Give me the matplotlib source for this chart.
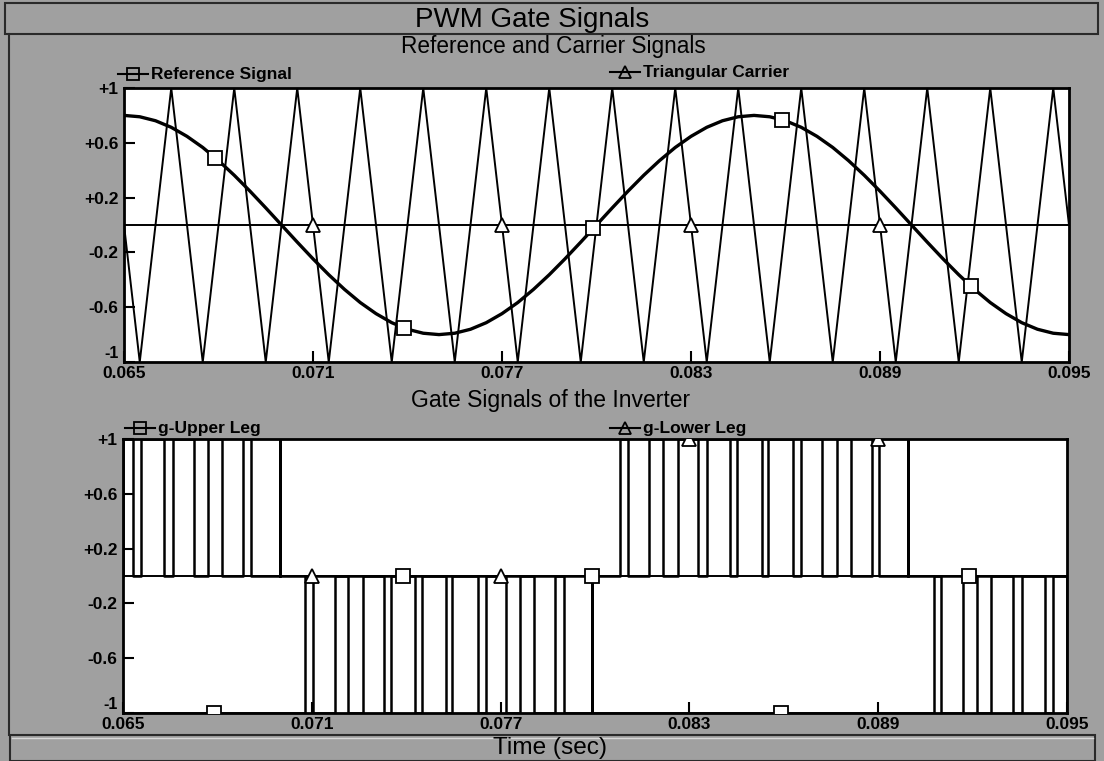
import numpy as np
import matplotlib
matplotlib.use("Agg")
import matplotlib.pyplot as plt
from matplotlib.patches import Rectangle
from matplotlib.lines import Line2D

W, H, DPI = 1104, 761, 100

# ---------------------------------------------------------------- data ----
t_min, t_max = 0.065, 0.095
x_ticks = [0.065, 0.071, 0.077, 0.083, 0.089, 0.095]
x_tick_labels = ["0.065", "0.071", "0.077", "0.083", "0.089", "0.095"]
y_ticks = [1.0, 0.6, 0.2, -0.2, -0.6, -1.0]
y_tick_labels = ["+1", "+0.6", "+0.2", "-0.2", "-0.6", "-1"]

# reference (modulating) signal, sampled every 0.5 ms from t = 0.065 s
ref_t0, ref_dt = 0.065, 0.0005
ref_values = [
    0.800, 0.790, 0.761, 0.713, 0.647, 0.566, 0.470, 0.363, 0.247, 0.125,
    0.000, -0.125, -0.247, -0.363, -0.470, -0.566, -0.647, -0.713, -0.761, -0.790,
    -0.800, -0.790, -0.761, -0.713, -0.647, -0.566, -0.470, -0.363, -0.247, -0.125,
    0.000, 0.125, 0.247, 0.363, 0.470, 0.566, 0.647, 0.713, 0.761, 0.790,
    0.800, 0.790, 0.761, 0.713, 0.647, 0.566, 0.470, 0.363, 0.247, 0.125,
    0.000, -0.125, -0.247, -0.363, -0.470, -0.566, -0.647, -0.713, -0.761, -0.790,
    -0.800,
]

# triangular carrier: corner points (time, value)
carrier_t = [0.0650, 0.0655, 0.0665, 0.0675, 0.0685, 0.0695, 0.0705, 0.0715,
             0.0725, 0.0735, 0.0745, 0.0755, 0.0765, 0.0775, 0.0785, 0.0795,
             0.0805, 0.0815, 0.0825, 0.0835, 0.0845, 0.0855, 0.0865, 0.0875,
             0.0885, 0.0895, 0.0905, 0.0915, 0.0925, 0.0935, 0.0945, 0.0950]
carrier_v = [0, -1, 1, -1, 1, -1, 1, -1,
             1, -1, 1, -1, 1, -1, 1, -1,
             1, -1, 1, -1, 1, -1, 1, -1,
             1, -1, 1, -1, 1, -1, 1, 0]

# marker positions on the traces
ref_marker_t = [0.0679, 0.0739, 0.0799, 0.0859, 0.0919]
carrier_marker_t = [0.0710, 0.0770, 0.0830, 0.0890]

# lower-leg gate: intervals at +1 (otherwise 0), plus single-step spikes
lower_on = [(0.06500, 0.06532), (0.06556, 0.06630), (0.06659, 0.06726),
            (0.06770, 0.06816), (0.06882, 0.06906),
            (0.08079, 0.08104), (0.08171, 0.08215), (0.08263, 0.08326),
            (0.08355, 0.08429), (0.08452, 0.08530), (0.08551, 0.08628),
            (0.08654, 0.08720), (0.08768, 0.08813), (0.08879, 0.08903)]
lower_spikes = [0.06998, 0.08996]

# upper-leg gate: intervals at 0 (otherwise -1), plus single-step spikes
upper_zero = [(0.07077, 0.07104), (0.07173, 0.07215), (0.07263, 0.07329),
              (0.07353, 0.07428), (0.07450, 0.07527), (0.07547, 0.07627),
              (0.07653, 0.07718), (0.07763, 0.07806), (0.07874, 0.07902),
              (0.09076, 0.09100), (0.09168, 0.09214), (0.09260, 0.09329),
              (0.09356, 0.09430), (0.09454, 0.09500)]
upper_spikes = [0.07991]

upper_marker_t = [0.0679, 0.0739, 0.0799, 0.0859, 0.0919]
upper_marker_v = [-1, 0, 0, -1, 0]
lower_marker_t = [0.0710, 0.0770, 0.0830, 0.0890]
lower_marker_v = [0, 0, 1, 1]

# ------------------------------------------------------------- styling ----
BG = "#a0a0a0"
EDGE = "#2a2a2a"
FONT = "Liberation Sans"
plt.rcParams["font.family"] = [FONT, "DejaVu Sans"]


def fx(px):
    return px / W


def fy(py):
    return 1 - py / H


def step_trace(intervals, spikes, low, high):
    segs = sorted(list(intervals) + [(s, s) for s in spikes])
    ts, vs = [t_min], [low]
    for s, e in segs:
        ts += [s, s, e, e]
        vs += [low, high, high, low]
    ts.append(t_max)
    vs.append(low)
    return np.array(ts), np.array(vs)


fig = plt.figure(figsize=(W / DPI, H / DPI), dpi=DPI, facecolor=BG)

# window panels: title bar, caption bar and left frame edge
fig.add_artist(Rectangle((fx(5), fy(34)), fx(1093), fy(3) - fy(34),
                         transform=fig.transFigure, facecolor=BG,
                         edgecolor=EDGE, lw=1.5))
fig.add_artist(Rectangle((fx(10), fy(761)), fx(1085), fy(735) - fy(761),
                         transform=fig.transFigure, facecolor=BG,
                         edgecolor=EDGE, lw=1.5))
fig.add_artist(Line2D([fx(12), fx(1093)], [fy(738), fy(738)],
                      transform=fig.transFigure, color="#d8d8d8", lw=1.0))
fig.add_artist(Line2D([fx(9), fx(9)], [fy(34), fy(735)],
                      transform=fig.transFigure, color=EDGE, lw=1.5))

fig.text(fx(532), fy(20), "PWM Gate Signals", ha="center", va="center",
         fontsize=20, color="black")
fig.text(fx(553), fy(47), "Reference and Carrier Signals", ha="center",
         va="center", fontsize=16.3, color="black")
fig.text(fx(551), fy(401), "Gate Signals of the Inverter", ha="center",
         va="center", fontsize=16.5, color="black")
fig.text(fx(550), fy(748), "Time (sec)", ha="center", va="center",
         fontsize=17.6, color="black")


def legend_entry(x0, y, marker, label):
    fig.add_artist(Line2D([fx(x0), fx(x0 + 30)], [fy(y), fy(y)],
                          transform=fig.transFigure, color="black", lw=1.5))
    fig.add_artist(Line2D([fx(x0 + 15)], [fy(y)], transform=fig.transFigure,
                          marker=marker, ms=8, mfc="none", mec="black",
                          mew=1.3, ls="none"))
    fig.text(fx(x0 + 33), fy(y), label, ha="left", va="center",
             fontsize=12.5, fontweight="bold", color="black")


def style_axes(ax):
    ax.set_facecolor("white")
    ax.set_xlim(t_min, t_max)
    ax.set_ylim(-1, 1)
    for sp in ax.spines.values():
        sp.set_linewidth(2)
        sp.set_color("black")
    ax.set_xticks(x_ticks)
    ax.set_xticklabels(x_tick_labels)
    ax.set_yticks(y_ticks)
    ax.set_yticklabels([lab if lab != "-1" else "" for lab in y_tick_labels])
    ax.tick_params(direction="in", length=8, width=1.5, colors="black",
                   labelsize=12.5, top=False, right=False)
    ax.tick_params(axis="x", pad=3)
    ax.tick_params(axis="y", pad=4)
    for lab in ax.get_xticklabels() + ax.get_yticklabels():
        lab.set_fontweight("bold")
    # the -1 label is lifted just clear of the first time label
    ax.annotate("-1", xy=(0, -1), xycoords=("axes fraction", "data"),
                xytext=(-4, 1), textcoords="offset points", ha="right",
                va="bottom", fontsize=11.5, fontweight="bold", zorder=1,
                annotation_clip=False)
    # zero reference line drawn across the plot
    ax.axhline(0, color="black", lw=1.4, zorder=1)


# ------------------------------------------------ reference and carrier ----
ax1 = fig.add_axes([fx(124), fy(362), fx(1069) - fx(124), fy(88) - fy(362)])
style_axes(ax1)
ref_t = ref_t0 + ref_dt * np.arange(len(ref_values))
ax1.plot(carrier_t, carrier_v, color="black", lw=1.4, zorder=2)
ax1.plot(ref_t, ref_values, color="black", lw=2.4, zorder=3)
ax1.plot(ref_marker_t, np.interp(ref_marker_t, ref_t, ref_values), ls="none",
         marker="s", ms=9.5, mfc="white", mec="black", mew=1.3, zorder=4)
ax1.plot(carrier_marker_t, np.interp(carrier_marker_t, carrier_t, carrier_v),
         ls="none", marker="^", ms=9.5, mfc="white", mec="black", mew=1.3,
         zorder=4)
legend_entry(118, 74, "s", "Reference Signal")
legend_entry(610, 72, "^", "Triangular Carrier")

# ------------------------------------------------------- gate signals ----
ax2 = fig.add_axes([fx(123), fy(713), fx(1067) - fx(123), fy(439) - fy(713)])
style_axes(ax2)
ut, uv = step_trace(upper_zero, upper_spikes, -1, 0)
lt, lv = step_trace(lower_on, lower_spikes, 0, 1)
ax2.plot(ut, uv, color="black", lw=1.8, zorder=2)
ax2.plot(lt, lv, color="black", lw=1.8, zorder=2)
ax2.plot(upper_marker_t, upper_marker_v, ls="none", marker="s", ms=9.5,
         mfc="white", mec="black", mew=1.3, zorder=4)
ax2.plot(lower_marker_t, lower_marker_v, ls="none", marker="^", ms=9.5,
         mfc="white", mec="black", mew=1.3, zorder=4)
legend_entry(125, 428, "s", "g-Upper Leg")
legend_entry(610, 428, "^", "g-Lower Leg")

fig.savefig("out.png", dpi=DPI, facecolor=BG)
